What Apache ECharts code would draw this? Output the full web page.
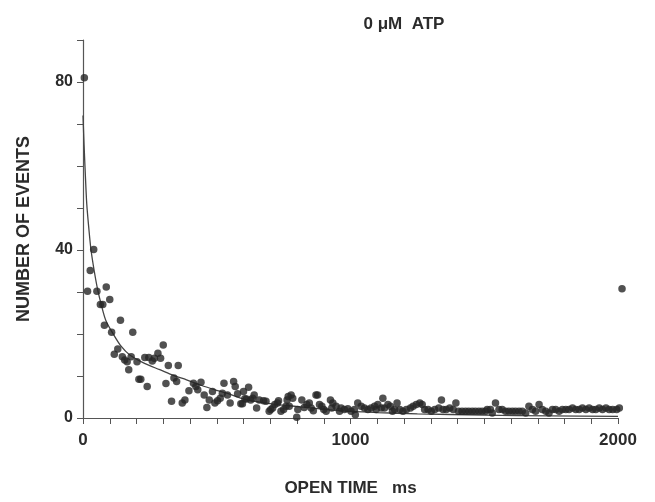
<!DOCTYPE html>
<html><head><meta charset="utf-8">
<script src="https://cdn.jsdelivr.net/npm/echarts@6/dist/echarts.min.js"></script>
<style>html,body{margin:0;padding:0;background:#fff}#c{width:655px;height:502px}</style>
</head><body><div id="c"></div>
<script>
const titleText = '0 \u03bcM  ATP';
const xName = 'OPEN TIME   ms';
const yName = 'NUMBER OF EVENTS';
const xTickLabels = [0, 1000, 2000];
const yTickLabels = [0, 40, 80];

const eventTimes = [5,17,27,40,52,87,65,74,100,140,80,107,186,130,117,147,156,180,165,202,171,209,216,231,246,259,267,280,290,300,240,319,356,340,350,310,331,371,381,396,413,422,429,441,453,463,484,472,493,503,513,527,540,550,563,569,578,590,596,600,619,611,627,640,649,659,
521,605,634,675,684,696,702,709,717,727,731,740,750,759,763,767,778,784,771,799,803,818,827,837,846,853,861,871,877,884,893,900,909,925,930,934,946,959,
965,977,990,1002,1015,1018,1027,1040,1052,1065,1077,1090,1096,1102,1115,1121,1127,1140,1149,1157,1165,1174,1184,1196,1209,1224,1234,1246,1259,1268,1277,1290,1302,1315,1330,1340,1346,1358,1371,1384,1394,1404,1417,1430,1442,1455,1467,1480,1492,1505,
1511,1523,1530,1542,1555,1567,1580,1592,1605,1617,1630,1642,1655,1667,1680,1692,1705,1717,1730,1742,1755,1767,1780,1792,1805,1817,1830,1842,1855,1867,1880,1892,1905,1917,1930,1942,1955,1967,1980,1995,2005,2015];
const eventCounts = [81,30.2,35.1,40.1,30.2,31.2,27,27,28.2,23.3,22.1,20.4,20.4,16.4,15.2,14.6,13.8,14.6,13.4,13.4,11.5,9.2,9.2,14.4,14.4,13.6,14.2,15.4,14.2,17.4,7.5,12.5,12.5,9.5,8.7,8.2,4.0,3.6,4.3,6.5,8.3,7.5,6.7,8.5,5.5,2.5,6.3,4.3,3.6,4.1,4.7,8.3,5.5,3.6,8.7,7.5,5.8,3.4,3.4,6.3,7.3,4.5,4.3,5.5,2.4,4.3,
5.9,4.6,4.7,4.1,4.0,1.6,2.0,2.4,3.2,3.6,4.1,1.6,2.0,2.8,4.3,5.1,5.5,4.7,2.8,0.2,2.0,4.3,2.5,3.2,3.6,2.4,1.7,5.5,5.5,3.2,2.8,2.0,1.6,4.3,2.4,3.6,2.8,1.6,
2.4,2.0,2.2,1.6,2.0,0.8,3.6,2.8,2.4,2.0,2.4,2.8,2.0,3.2,2.4,4.7,2.4,3.2,2.8,1.6,2.0,3.6,2.0,1.6,2.0,2.4,2.8,3.2,3.6,3.2,2.0,2.0,1.6,2.0,2.4,4.3,2.0,2.0,2.4,2.0,3.6,1.6,1.6,1.6,1.6,1.6,1.6,1.6,1.6,1.6,
2.0,2.0,1.2,3.6,2.0,2.0,1.6,1.6,1.6,1.6,1.6,1.6,1.2,2.8,2.0,1.6,3.2,2.0,1.6,1.2,2.0,2.0,1.6,2.0,2.0,2.0,2.4,2.0,2.0,2.4,2.0,2.4,2.0,2.0,2.4,2.0,2.4,2.0,2.0,2.0,2.4,30.8];

const fitTimes  = [0,4,8,14,22,30,42,55,69,85,112,140,175,230,287,340,387,441,500,538,602,660,727,790,853,965,1100,1250,1500,1750,2000];
const fitCounts = [72,65,59,51,45,40,35,30.5,26.8,23.3,20.1,17.3,15,13,11.5,10.1,9.1,7.8,6.6,5.9,4.5,3.8,3.2,2.8,2.4,1.7,1.3,1.0,0.7,0.5,0.4];

const ink = '#2b2b2b';
const font = '"Liberation Sans", Arial, sans-serif';
const chart = echarts.init(document.getElementById('c'), null, {renderer:'canvas'});
chart.setOption({
  backgroundColor:'#fff',
  animation:false,
  title:{text:titleText, left:399, top:11, textAlign:'center',
    textStyle:{fontFamily:font, fontWeight:'bold', fontSize:17, color:ink}},
  grid:{left:83, right:37, top:40, bottom:82},
  xAxis:{type:'value', min:0, max:2000, interval:100,
    name:xName, nameLocation:'middle', nameGap:62,
    nameTextStyle:{fontFamily:font, fontWeight:'bold', fontSize:17, color:ink},
    axisLine:{lineStyle:{color:'#555', width:1.2}},
    axisTick:{length:6, lineStyle:{color:'#555'}},
    splitLine:{show:false},
    axisLabel:{margin:14, fontFamily:font, fontWeight:'bold', fontSize:17, color:ink,
      formatter:v=>xTickLabels.includes(v)?String(v):''}},
  yAxis:{type:'value', min:0, max:90, interval:10,
    name:yName, nameLocation:'middle', nameGap:50, nameRotate:90,
    nameTextStyle:{fontFamily:font, fontWeight:'bold', fontSize:18, color:ink},
    axisLine:{show:true, lineStyle:{color:'#555', width:1.2}},
    axisTick:{show:true, length:6, lineStyle:{color:'#555'}},
    splitLine:{show:false},
    axisLabel:{margin:10, fontFamily:font, fontWeight:'bold', fontSize:16, color:ink,
      formatter:v=>yTickLabels.includes(v)?String(v):''}},
  series:[
    {type:'line', data:fitTimes.map((t,i)=>[t,fitCounts[i]]), smooth:0.3, symbol:'none',
      lineStyle:{color:'#444', width:1.3}, z:2},
    {type:'scatter', data:eventTimes.map((t,i)=>[t,eventCounts[i]]), clip:false,
      symbolSize:7.5, itemStyle:{color:'#262626'}, z:3}
  ]
});
</script></body></html>
